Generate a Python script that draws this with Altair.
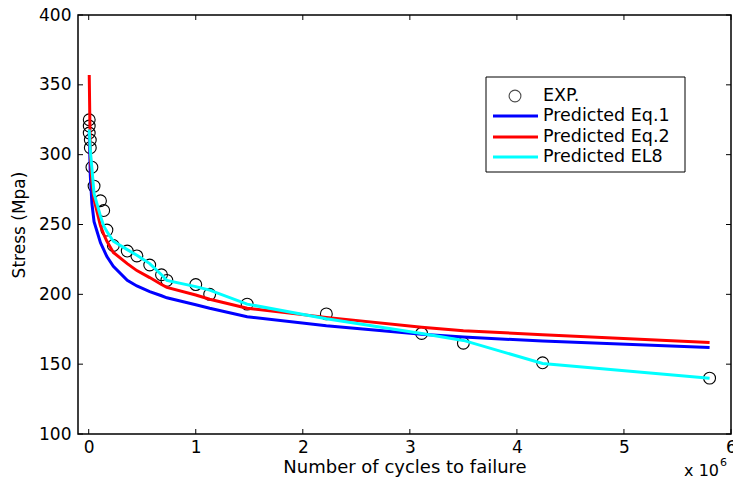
import altair as alt
import pandas as pd

# Experimental fatigue results: cycles to failure and stress amplitude (MPa)
exp_cycles = [5000, 5000, 5000, 15000, 15000, 30000, 50000, 110000, 140000, 170000,
              230000, 360000, 450000, 570000, 680000, 730000, 1000000, 1130000,
              1480000, 2220000, 3110000, 3500000, 4240000, 5800000]
exp_stress = [325, 320.5, 315.5, 310.5, 305, 291, 277.5, 267, 260, 246,
              235, 231, 227.5, 221, 214, 210, 207, 200,
              193, 186, 172, 165, 151, 140]

# Model predictions evaluated at the same cycle counts
pred_cycles = [5000, 15000, 30000, 50000, 110000, 140000, 170000, 230000, 360000,
               450000, 570000, 680000, 730000, 1000000, 1130000, 1480000, 2220000,
               3110000, 3500000, 4240000, 5800000]
pred_eq1 = [316, 285, 265, 252, 237, 232, 227, 220, 210, 206, 202, 199, 197.5,
            192.5, 190, 184, 177.5, 171.5, 169.5, 166.5, 162]
pred_eq2 = [357, 300, 280, 268, 249, 243, 238, 230, 222, 217, 212, 207, 205,
            199.5, 196.5, 190, 183.5, 176.5, 174, 171, 165.5]
pred_el8 = [318, 303, 290, 272, 256, 249, 245, 238, 232, 228, 222, 214, 210,
            205.5, 203, 193, 182.5, 172, 167, 150.5, 140]

series_names = ["EXP.", "Predicted Eq.1", "Predicted Eq.2", "Predicted EL8"]
series_colors = ["black", "#0000ff", "#ff0000", "#00ffff"]

x_ticks = [0, 1000000, 2000000, 3000000, 4000000, 5000000, 6000000]
y_ticks = [100, 150, 200, 250, 300, 350, 400]

W, H = 653, 419
FONT = "DejaVu Sans"
MARKER_SIZE = 140

exp_df = pd.DataFrame({"cycles": exp_cycles, "stress": exp_stress})
pred_frames = {
    name: pd.DataFrame({"cycles": pred_cycles, "stress": vals})
    for name, vals in zip(series_names[1:], [pred_eq1, pred_eq2, pred_el8])
}

xscale = alt.Scale(domain=[-100000, 6000000], nice=False, zero=False)
yscale = alt.Scale(domain=[100, 400], nice=False, zero=False)

x_axis = alt.Axis(
    values=x_ticks, labelExpr="format(datum.value / 1000000, 'd')",
    title="Number of cycles to failure", domain=False, ticks=False, grid=False,
    labelPadding=5, labelFlush=False, labelOverlap=False, titlePadding=3,
    titleFontSize=18)
y_axis = alt.Axis(
    values=y_ticks, title="Stress (Mpa)", domain=False, ticks=False, grid=False,
    labelPadding=7, titlePadding=10)
x_enc = alt.X("cycles:Q", scale=xscale, axis=x_axis)
y_enc = alt.Y("stress:Q", scale=yscale, axis=y_axis)

points = alt.Chart(exp_df).mark_point(
    shape="circle", filled=False, color="black", size=MARKER_SIZE, strokeWidth=1.1, opacity=1
).encode(x=x_enc, y=y_enc)

curves = [
    alt.Chart(pred_frames[name]).mark_line(color=col, strokeWidth=3).encode(x=x_enc, y=y_enc)
    for name, col in zip(series_names[1:], series_colors[1:])
]

# Inward tick marks on all four sides of the box
xt = pd.DataFrame({"cycles": x_ticks})
yt = pd.DataFrame({"stress": y_ticks})
tick_len = 5
ticks = [
    alt.Chart(xt).mark_rule(color="black", strokeWidth=1).encode(x=x_enc, y=alt.value(H), y2=alt.value(H - tick_len)),
    alt.Chart(xt).mark_rule(color="black", strokeWidth=1).encode(x=x_enc, y=alt.value(0), y2=alt.value(tick_len)),
    alt.Chart(yt).mark_rule(color="black", strokeWidth=1).encode(y=y_enc, x=alt.value(0), x2=alt.value(tick_len)),
    alt.Chart(yt).mark_rule(color="black", strokeWidth=1).encode(y=y_enc, x=alt.value(W), x2=alt.value(W - tick_len)),
]

# Exponent note under the right end of the x axis
one = pd.DataFrame({"t": [0]})
exponent = [
    alt.Chart(one).mark_text(text="x 10", font=FONT, fontSize=16, align="right", baseline="middle", color="black")
    .encode(x=alt.value(641), y=alt.value(456)),
    alt.Chart(one).mark_text(text="6", font=FONT, fontSize=11, align="left", baseline="middle", color="black")
    .encode(x=alt.value(642), y=alt.value(448)),
]

# Legend box with marker/line samples
lg_left, lg_right, lg_top, lg_bottom = 408, 607, 62, 157
row_y = [81, 101, 122, 142]
legend = [
    alt.Chart(one).mark_rect(fill="white", stroke="black", strokeWidth=1)
    .encode(x=alt.value(lg_left), x2=alt.value(lg_right), y=alt.value(lg_top), y2=alt.value(lg_bottom))
]
for i, (name, col) in enumerate(zip(series_names, series_colors)):
    if i == 0:
        legend.append(alt.Chart(one).mark_point(shape="circle", filled=False, color="black",
                                                size=MARKER_SIZE, strokeWidth=1.1)
                      .encode(x=alt.value(437), y=alt.value(row_y[i])))
    else:
        legend.append(alt.Chart(one).mark_rule(color=col, strokeWidth=3)
                      .encode(x=alt.value(415), x2=alt.value(460), y=alt.value(row_y[i])))
    legend.append(alt.Chart(one).mark_text(text=name, font=FONT, fontSize=17.5, align="left", baseline="middle", color="black")
                  .encode(x=alt.value(465), y=alt.value(row_y[i])))

chart = alt.layer(points, *curves, *ticks, *exponent, *legend).properties(
    width=W, height=H,
    autosize=alt.AutoSizeParams(type="none"),
    padding={"left": 78, "top": 15, "right": 2, "bottom": 51},
    background="white",
).configure_view(stroke="black", strokeWidth=1.5).configure_axis(
    labelFont=FONT, labelFontSize=17, labelColor="black",
    titleFont=FONT, titleFontSize=17, titleColor="black", titleFontWeight="normal",
)

chart.save("out.html", embed_options={"renderer": "svg", "actions": False})
